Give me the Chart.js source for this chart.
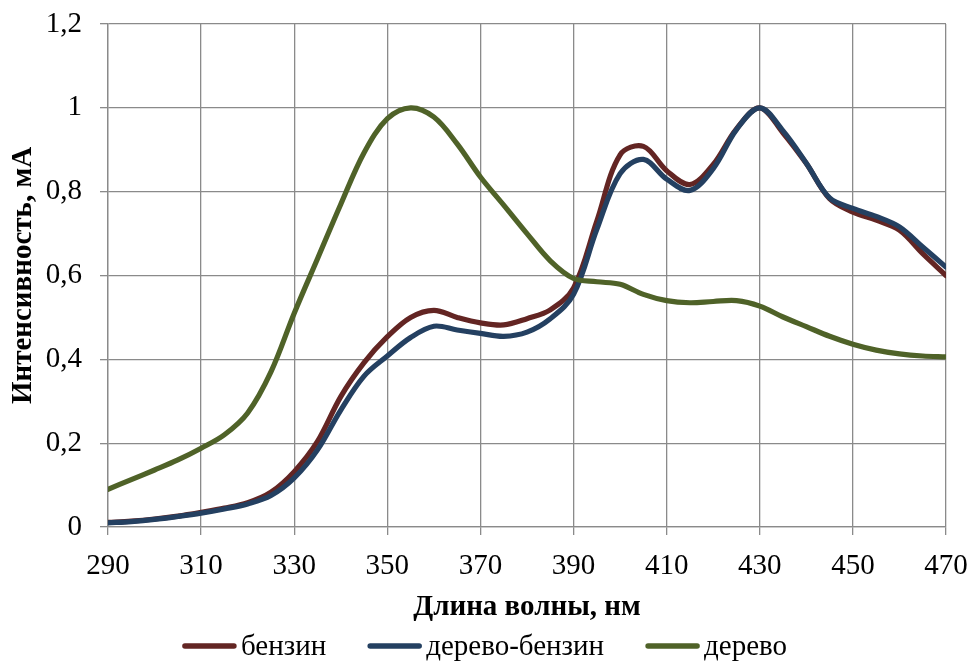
<!DOCTYPE html>
<html>
<head>
<meta charset="utf-8">
<script src="https://cdn.jsdelivr.net/npm/chart.js@4.4.1/dist/chart.umd.min.js"></script>
<style>
  html, body { margin: 0; padding: 0; background: #ffffff; }
  #wrap { width: 969px; height: 661px; position: relative; }
</style>
</head>
<body>
<div id="wrap"><canvas id="chart" width="969" height="661"></canvas></div>
<script>
// Wavelength grid, nm
const wavelengths = [290, 295, 300, 305, 310, 315, 320, 325, 330, 335, 340, 345, 350, 355, 360, 365, 370, 375, 380, 385, 390, 395, 400, 405, 410, 415, 420, 425, 430, 435, 440, 445, 450, 455, 460, 465, 470];

// Normalised intensity for each sample
const benzin = [0.011, 0.014, 0.019, 0.026, 0.035, 0.045, 0.058, 0.083, 0.132, 0.204, 0.311, 0.392, 0.454, 0.500, 0.517, 0.500, 0.487, 0.482, 0.497, 0.518, 0.570, 0.730, 0.888, 0.908, 0.850, 0.817, 0.865, 0.950, 1.000, 0.940, 0.867, 0.783, 0.751, 0.732, 0.708, 0.652, 0.600];
const derevoBenzin = [0.010, 0.013, 0.018, 0.025, 0.033, 0.043, 0.055, 0.075, 0.117, 0.184, 0.279, 0.360, 0.408, 0.452, 0.479, 0.470, 0.462, 0.455, 0.465, 0.497, 0.555, 0.710, 0.843, 0.877, 0.830, 0.803, 0.855, 0.948, 1.000, 0.945, 0.868, 0.785, 0.760, 0.741, 0.716, 0.668, 0.620];
const derevo = [0.090, 0.113, 0.136, 0.160, 0.188, 0.220, 0.272, 0.370, 0.510, 0.640, 0.770, 0.893, 0.974, 1.000, 0.978, 0.914, 0.835, 0.768, 0.700, 0.635, 0.593, 0.585, 0.579, 0.555, 0.540, 0.535, 0.538, 0.540, 0.527, 0.501, 0.478, 0.455, 0.436, 0.422, 0.413, 0.408, 0.406];

const seriesNames = ['бензин', 'дерево-бензин', 'дерево'];
const seriesColors = ['#632523', '#244061', '#4f6228'];

const xTitle = 'Длина волны, нм';
const yTitle = 'Интенсивность, мА';

const toPoints = (vals) => vals.map((v, i) => ({ x: wavelengths[i], y: v }));

const FAMILY = '"Liberation Serif", "Times New Roman", serif';
const FONT_SIZE = 29;
const GRID = '#8a8a8a';

const datasets = [benzin, derevoBenzin, derevo].map((vals, i) => ({
  label: seriesNames[i],
  data: toPoints(vals),
  borderColor: seriesColors[i],
  backgroundColor: seriesColors[i],
  borderWidth: 5.2,
  borderCapStyle: 'round',
  borderJoinStyle: 'round',
  pointRadius: 0,
  tension: 0.35,
  fill: false,
  order: 2 - i          // later series are painted above earlier ones
}));

// Legend row: short line sample followed closely by the series name
const lineLegend = {
  id: 'lineLegend',
  afterDraw(chart) {
    const ctx = chart.ctx;
    const sample = 55, gapText = 4, gapItem = 41, yMid = 646;
    ctx.save();
    ctx.font = FONT_SIZE + 'px ' + FAMILY;
    ctx.textBaseline = 'middle';
    ctx.textAlign = 'left';
    const items = chart.data.datasets.map(d => ({
      label: d.label, color: d.borderColor, w: ctx.measureText(d.label).width
    }));
    const total = items.reduce((s, it) => s + sample + gapText + it.w, 0) + gapItem * (items.length - 1);
    let x = (chart.width - total) / 2;
    items.forEach(it => {
      ctx.strokeStyle = it.color;
      ctx.lineWidth = 5.5;
      ctx.lineCap = 'round';
      ctx.beginPath();
      ctx.moveTo(x + 3, yMid);
      ctx.lineTo(x + sample - 3, yMid);
      ctx.stroke();
      ctx.fillStyle = '#000';
      ctx.fillText(it.label, x + sample + gapText, yMid + 1);
      x += sample + gapText + it.w + gapItem;
    });
    ctx.restore();
  }
};

new Chart(document.getElementById('chart'), {
  type: 'line',
  data: { datasets },
  plugins: [lineLegend],
  options: {
    responsive: false,
    animation: false,
    events: [],
    layout: { padding: { left: 0, right: 23, top: 24, bottom: 34 } },
    plugins: {
      tooltip: { enabled: false },
      legend: { display: false }
    },
    scales: {
      x: {
        type: 'linear',
        min: 290,
        max: 470,
        afterFit: (s) => { s.height = 100; s.paddingLeft = 0; s.paddingRight = 0; },
        ticks: {
          stepSize: 20,
          color: '#000',
          font: { family: FAMILY, size: FONT_SIZE },
          padding: 14,
          maxRotation: 0
        },
        grid: { color: GRID, lineWidth: 1.3, tickLength: 8 },
        border: { color: GRID, width: 1.3 },
        title: {
          display: true,
          text: xTitle,
          color: '#000',
          font: { family: FAMILY, size: FONT_SIZE, weight: 'bold' },
          padding: { top: 0, bottom: 2 }
        }
      },
      y: {
        min: 0,
        max: 1.2,
        afterFit: (s) => { s.width = 108; s.paddingTop = 0; s.paddingBottom = 0; },
        ticks: {
          stepSize: 0.2,
          color: '#000',
          font: { family: FAMILY, size: FONT_SIZE },
          padding: 18,
          callback: (v) => String(Math.round(v * 10) / 10).replace('.', ',')
        },
        grid: { color: GRID, lineWidth: 1.3, tickLength: 8 },
        border: { color: GRID, width: 1.3 },
        title: {
          display: true,
          text: yTitle,
          color: '#000',
          font: { family: FAMILY, size: FONT_SIZE, weight: 'bold' },
          padding: { top: 6, bottom: 0 }
        }
      }
    }
  }
});
</script>
</body>
</html>
